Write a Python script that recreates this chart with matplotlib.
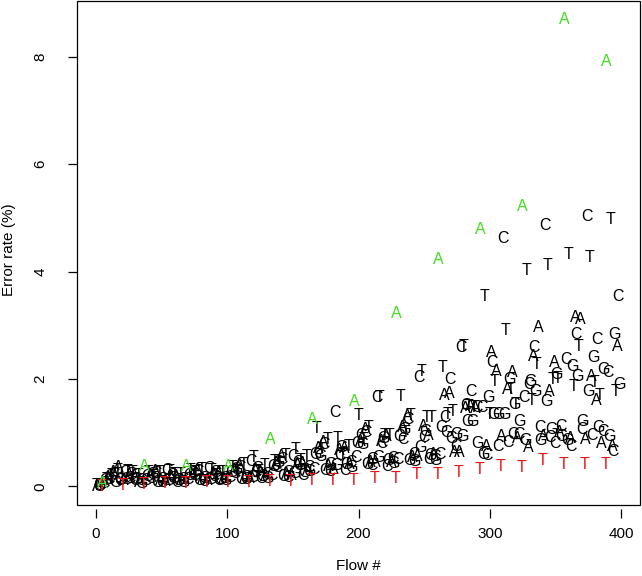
import matplotlib
matplotlib.use("Agg")
import matplotlib.pyplot as plt
from matplotlib.patches import Rectangle

plt.rcParams['font.family'] = ['Liberation Sans', 'DejaVu Sans']

# flow order of the sequencer, letter of flow f = flow_order[f % 4]
flow_order = "TACG"

# error rate (%) per flow, one row per 32-flow cycle
err_pct = [
    0.02, 0.0, 0.0, 0.02, 0.0, 0.05, 0.05, 0.1, 0.12, 0.15, 0.12, 0.18, 0.2, 0.25, 0.22, 0.08,
    0.3, 0.35, 0.1, 0.12, 0.02, 0.1, 0.25, 0.12, 0.28, 0.2, 0.15, 0.22, 0.25, 0.18, 0.1, 0.12,
    0.2, 0.08, 0.1, 0.06, 0.04, 0.37, 0.1, 0.18, 0.25, 0.2, 0.15, 0.22, 0.18, 0.28, 0.24, 0.08,
    0.26, 0.1, 0.07, 0.12, 0.05, 0.09, 0.3, 0.1, 0.28, 0.16, 0.2, 0.14, 0.22, 0.17, 0.08, 0.11,
    0.22, 0.1, 0.12, 0.08, 0.06, 0.37, 0.12, 0.2, 0.3, 0.18, 0.24, 0.2, 0.25, 0.3, 0.28, 0.1,
    0.32, 0.12, 0.09, 0.14, 0.07, 0.11, 0.33, 0.13, 0.3, 0.22, 0.18, 0.25, 0.2, 0.23, 0.1, 0.13,
    0.26, 0.12, 0.15, 0.1, 0.08, 0.37, 0.16, 0.25, 0.35, 0.3, 0.24, 0.32, 0.27, 0.38, 0.35, 0.13,
    0.4, 0.15, 0.12, 0.17, 0.08, 0.14, 0.47, 0.16, 0.54, 0.3, 0.26, 0.33, 0.28, 0.25, 0.14, 0.18,
    0.38, 0.18, 0.22, 0.15, 0.09, 0.87, 0.2, 0.36, 0.47, 0.42, 0.35, 0.45, 0.4, 0.55, 0.5, 0.18,
    0.58, 0.22, 0.17, 0.25, 0.09, 0.2, 0.55, 0.24, 0.69, 0.4, 0.45, 0.38, 0.48, 0.42, 0.2, 0.26,
    0.55, 0.3, 0.35, 0.28, 0.1, 1.25, 0.32, 0.6, 1.08, 0.7, 0.62, 0.55, 0.68, 0.82, 0.78, 0.3,
    0.88, 0.36, 0.28, 0.4, 0.1, 0.32, 1.37, 0.38, 0.9, 0.66, 0.58, 0.72, 0.6, 0.7, 0.3, 0.4,
    0.75, 0.4, 0.45, 0.35, 0.1, 1.58, 0.54, 0.8, 1.31, 0.84, 0.95, 0.78, 0.88, 1.06, 1.0, 0.4,
    1.1, 0.45, 0.38, 0.5, 0.15, 0.45, 1.65, 0.54, 1.65, 0.84, 0.8, 0.9, 0.95, 0.93, 0.37, 0.48,
    0.95, 0.45, 0.52, 0.42, 0.14, 3.22, 0.5, 0.92, 1.68, 1.1, 0.87, 1.05, 1.0, 1.3, 1.25, 0.48,
    1.32, 0.54, 0.6, 0.47, 0.22, 0.55, 2.02, 0.73, 2.14, 1.12, 0.91, 1.02, 1.28, 0.95, 0.5, 0.58,
    1.28, 0.6, 0.55, 0.48, 0.22, 4.22, 0.6, 1.1, 2.21, 1.7, 1.28, 1.0, 1.34, 1.72, 1.99, 0.9,
    1.4, 0.63, 0.75, 0.97, 0.25, 0.63, 2.58, 0.93, 2.6, 1.45, 1.5, 1.21, 1.49, 1.49, 1.77, 1.21,
    1.47, 1.45, 1.47, 0.8, 0.32, 4.78, 1.47, 0.6, 3.53, 0.75, 0.57, 1.65, 1.34, 2.49, 2.3, 1.34,
    1.96, 2.14, 0.75, 1.34, 0.37, 0.93, 4.61, 1.34, 2.9, 1.8, 0.82, 1.99, 1.8, 2.12, 0.97, 1.53,
    1.53, 0.9, 0.97, 1.2, 0.35, 5.21, 1.66, 0.85, 4.02, 0.73, 1.9, 1.95, 1.6, 2.42, 2.58, 1.77,
    2.27, 2.96, 1.1, 0.85, 0.48, 0.93, 4.86, 1.58, 4.11, 1.77, 0.91, 1.05, 1.99, 2.3, 0.8, 2.08,
    2.0, 1.0, 1.12, 0.93, 0.4, 8.69, 2.36, 0.85, 4.32, 0.9, 0.75, 2.23, 1.85, 3.14, 2.83, 2.05,
    2.6, 3.1, 1.05, 1.21, 0.41, 0.87, 5.02, 1.77, 4.26, 2.05, 0.95, 2.4, 1.93, 1.6, 2.73, 1.1,
    1.7, 0.8, 1.02, 2.18, 0.41, 7.91, 2.12, 0.93, 4.97, 0.75, 0.65, 2.83, 1.77, 2.6, 3.53, 1.9,
]

# highlighted flows
red_flows = [4, 20, 36, 52, 68, 84, 100, 116, 132, 148, 164, 180, 196, 212, 228,
             244, 260, 276, 292, 308, 324, 340, 356, 372, 388]
green_flows = [5, 37, 69, 101, 133, 165, 197, 229, 261, 293, 325, 357, 389]

fig = plt.figure(figsize=(6.42, 5.76), dpi=100)
ax = fig.add_axes([77 / 642, 1 - 505 / 576, 563 / 642, 504 / 576])

# black letters first, coloured ones on top
for f, e in enumerate(err_pct):
    if f in red_flows or f in green_flows:
        continue
    ax.text(f, e, flow_order[f % 4], color='black', ha='center', va='center', fontsize=11.5)
for f in red_flows:
    ax.text(f, err_pct[f], flow_order[f % 4], color='#ee1111', ha='center', va='center', fontsize=11.5)
for f in green_flows:
    ax.text(f, err_pct[f], flow_order[f % 4], color='#44dd22', ha='center', va='center', fontsize=11.5)

ax.set_xlim(-14.5, 414.5)
ax.set_ylim(-0.348, 9.04)
ax.set_xticks([0, 100, 200, 300, 400])
ax.set_yticks([0, 2, 4, 6, 8])
ax.set_yticklabels(['0', '2', '4', '6', '8'], rotation=90, va='center')

# R style box, x ticks slightly detached from it
for s in ax.spines.values():
    s.set_visible(False)
ax.spines['bottom'].set_position(('outward', 3))
ax.add_patch(Rectangle((0, 0), 1, 1, transform=ax.transAxes, fill=False,
                       edgecolor='black', linewidth=0.9, clip_on=False))
ax.tick_params(axis='x', length=6.5, width=0.9, pad=6, labelsize=11)
ax.tick_params(axis='y', length=6.5, width=0.9, pad=15, labelsize=11)

fig.text(358 / 642, 1 - 566 / 576, 'Flow #', ha='center', va='center', fontsize=11)
fig.text(9.5 / 642, 1 - 250 / 576, 'Error rate (%)', ha='center', va='center',
         rotation=90, fontsize=11)

fig.savefig('out.png', dpi=100)
